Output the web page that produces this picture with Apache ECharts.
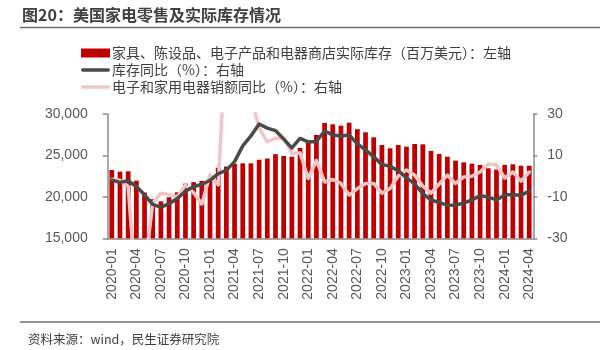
<!DOCTYPE html>
<html>
<head>
<meta charset="utf-8">
<script src="https://cdn.jsdelivr.net/npm/echarts@6/dist/echarts.min.js"></script>
<style>
html,body{margin:0;padding:0;background:#fff;}
#c{width:600px;height:350px;}
</style>
</head>
<body>
<div id="c"></div>
<script>
const months = ['2020-01','2020-02','2020-03','2020-04','2020-05','2020-06','2020-07','2020-08','2020-09','2020-10','2020-11','2020-12',
'2021-01','2021-02','2021-03','2021-04','2021-05','2021-06','2021-07','2021-08','2021-09','2021-10','2021-11','2021-12',
'2022-01','2022-02','2022-03','2022-04','2022-05','2022-06','2022-07','2022-08','2022-09','2022-10','2022-11','2022-12',
'2023-01','2023-02','2023-03','2023-04','2023-05','2023-06','2023-07','2023-08','2023-09','2023-10','2023-11','2023-12',
'2024-01','2024-02','2024-03','2024-04'];

const inventory = [23240,23040,23085,21950,20520,19720,19460,19950,20550,21600,21780,21930,
22250,23520,23660,23980,24050,24050,24480,24630,25150,24930,24850,25900,
26520,27470,28920,28760,28590,28950,28170,27790,27190,26260,25860,26260,
26060,26380,26340,25540,25170,24850,24370,24170,24000,23850,23450,23300,
23850,23930,23760,23760];

const inventoryYoY = [-1.9,-3.0,-2.2,-5.0,-9.0,-13.6,-15.1,-13.3,-10.8,-7.3,-5.0,-4.0,
-2.0,1.2,2.8,7.0,14.6,19.4,25.2,23.2,22.0,17.9,13.6,18.2,
16.5,16.7,21.8,19.9,19.4,19.9,15.6,12.7,9.3,5.7,4.7,2.6,
-0.8,-3.7,-8.4,-11.5,-12.7,-14.1,-13.9,-13.0,-11.5,-9.4,-10.1,-11.5,
-9.1,-8.9,-9.3,-7.2];

const salesYoY = [-1.5,-2.0,-5.0,-57,-46,-13.0,-8.3,-8.8,-10.0,-4.3,-8.0,-13.5,
0.8,-4.2,70,130,80,38,23.3,16.6,18.3,18.5,11.0,11.2,
-1.1,7.6,-2.8,-1.6,-3.5,-9.1,-6.0,-3.5,-3.5,-8.2,-6.0,0.1,
3.0,0.5,-4.8,-8.2,-3.8,0.5,-3.5,-0.4,0.0,2.0,5.9,5.5,
-0.9,2.0,-2.4,2.0];

const leftTicks = {min:15000, max:30000, interval:5000};
const rightTicks = {min:-30, max:30, interval:20};

const seriesNames = ['家具、陈设品、电子产品和电器商店实际库存（百万美元）：左轴','库存同比（%）：右轴','电子和家用电器销额同比（%）：右轴'];
const titleText = '图20：美国家电零售及实际库存情况';
const sourceText = '资料来源：wind，民生证券研究院';

const chart = echarts.init(document.getElementById('c'), null, {renderer:'canvas'});
const axisColor = '#8c8c8c';
const labelColor = '#595959';
const numFont = '"Liberation Sans", Arial, sans-serif';
const cjkFont = '"Noto Sans CJK SC", "Liberation Sans", sans-serif';
const lineIcon = 'path://M1.75,0 L27.25,0 A1.75,1.75 0 0 1 27.25,3.5 L1.75,3.5 A1.75,1.75 0 0 1 1.75,0 Z';

chart.setOption({
  animation:false,
  backgroundColor:'#fff',
  textStyle:{fontFamily:cjkFont},
  graphic:[
    {type:'text', left:22, top:7, style:{text:titleText, font:'bold 16px "Noto Sans CJK SC", sans-serif', fill:'#404040'}},
    {type:'line', shape:{x1:20,y1:27.5,x2:600,y2:27.5}, style:{stroke:'#6e6e6e', lineWidth:1.5}},
    {type:'line', shape:{x1:20,y1:322,x2:600,y2:322}, style:{stroke:'#6e6e6e', lineWidth:1.5}},
    {type:'text', left:28, top:333, style:{text:sourceText, font:'12.5px "Noto Sans CJK SC", sans-serif', fill:'#404040'}}
  ],
  legend:{
    orient:'vertical', left:76, top:41, itemWidth:29, itemHeight:9, itemGap:3,
    symbolKeepAspect:true,
    textStyle:{fontSize:14, color:'#404040', fontFamily:cjkFont, padding:[0,0,0,-3]},
    data:[
      {name:seriesNames[0], icon:'rect'},
      {name:seriesNames[1], icon:lineIcon},
      {name:seriesNames[2], icon:lineIcon}
    ]
  },
  grid:{left:107.7, right:66.7, top:114, bottom:111.7, containLabel:false, outerBoundsMode:'none'},
  xAxis:{
    type:'category', data:months, boundaryGap:true,
    axisLine:{onZero:false, lineStyle:{color:axisColor, width:1.5}},
    axisTick:{interval:2, length:4, lineStyle:{color:axisColor, width:1.5}},
    axisLabel:{interval:2, rotate:90, fontSize:14, color:labelColor, fontFamily:numFont, margin:10}
  },
  yAxis:[
    {type:'value', min:leftTicks.min, max:leftTicks.max, interval:leftTicks.interval,
     splitLine:{show:false},
     axisLine:{show:true, lineStyle:{color:axisColor, width:1.5}},
     axisTick:{show:true, length:5, lineStyle:{color:axisColor, width:1.5}},
     axisLabel:{fontSize:14, color:labelColor, fontFamily:numFont, margin:20,
       formatter:v=>v.toLocaleString('en-US')}},
    {type:'value', min:rightTicks.min, max:rightTicks.max, interval:rightTicks.interval, position:'right',
     splitLine:{show:false},
     axisLine:{show:true, lineStyle:{color:axisColor, width:1.5}},
     axisTick:{show:true, length:4, lineStyle:{color:axisColor, width:1.5}},
     axisLabel:{fontSize:14, color:labelColor, fontFamily:numFont, margin:14}}
  ],
  series:[
    {name:seriesNames[0], type:'bar', data:inventory, yAxisIndex:0, barWidth:'58%',
     itemStyle:{color:'#c00000'}},
    {name:seriesNames[2], type:'line', data:salesYoY, yAxisIndex:1, symbol:'none', clip:true,
     lineStyle:{color:'#f0c6c6', width:3.5, cap:'round', join:'round'}, itemStyle:{color:'#f0c6c6'}},
    {name:seriesNames[1], type:'line', data:inventoryYoY, yAxisIndex:1, symbol:'none', clip:true,
     lineStyle:{color:'#4a4a4a', width:3.5, cap:'round', join:'round'}, itemStyle:{color:'#4a4a4a'}}
  ]
});
</script>
</body>
</html>
